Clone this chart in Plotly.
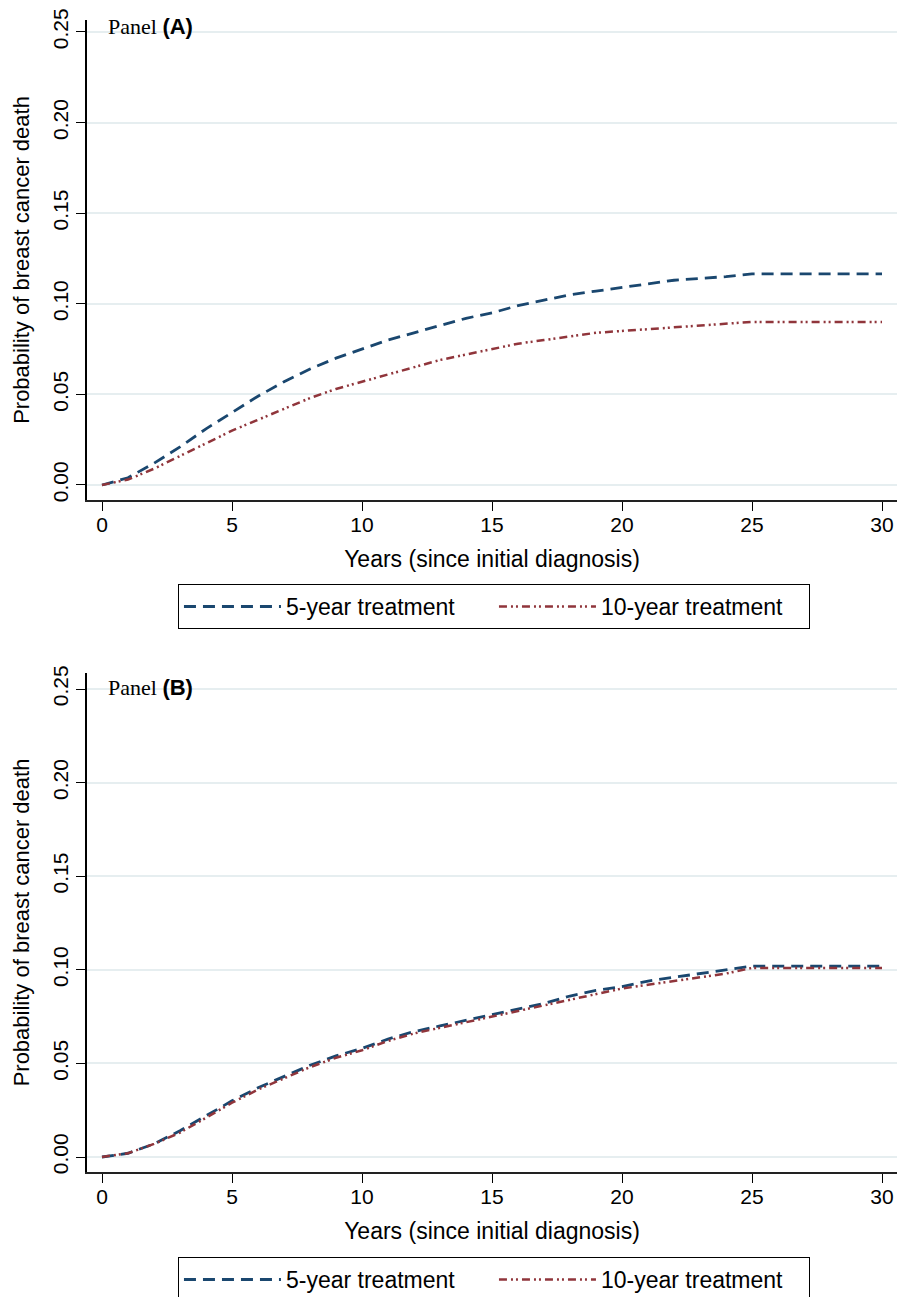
import plotly.graph_objects as go

years = list(range(0, 31))

a_5yr = [0.000, 0.004, 0.012, 0.021, 0.031, 0.040, 0.049, 0.057, 0.064, 0.070,
         0.075, 0.080, 0.084, 0.088, 0.092, 0.095, 0.099, 0.102, 0.105, 0.107,
         0.109, 0.111, 0.113, 0.114, 0.115, 0.1165, 0.1165, 0.1165, 0.1165, 0.1165, 0.1165]
a_10yr = [0.000, 0.003, 0.009, 0.016, 0.023, 0.030, 0.036, 0.042, 0.048, 0.053,
          0.057, 0.061, 0.065, 0.069, 0.072, 0.075, 0.078, 0.080, 0.082, 0.084,
          0.085, 0.086, 0.087, 0.088, 0.089, 0.090, 0.090, 0.090, 0.090, 0.090, 0.090]
b_5yr = [0.000, 0.002, 0.007, 0.014, 0.022, 0.030, 0.037, 0.043, 0.049, 0.054,
         0.058, 0.063, 0.067, 0.070, 0.073, 0.076, 0.079, 0.082, 0.086, 0.089,
         0.091, 0.094, 0.096, 0.098, 0.100, 0.102, 0.102, 0.102, 0.102, 0.102, 0.102]
b_10yr = [0.000, 0.002, 0.007, 0.013, 0.021, 0.029, 0.036, 0.042, 0.048, 0.053,
          0.057, 0.062, 0.066, 0.069, 0.072, 0.075, 0.078, 0.081, 0.084, 0.087,
          0.090, 0.092, 0.094, 0.096, 0.098, 0.101, 0.101, 0.101, 0.101, 0.101, 0.101]

x_ticks = [0, 5, 10, 15, 20, 25, 30]
y_ticks = [0.00, 0.05, 0.10, 0.15, 0.20, 0.25]
y_tick_labels = ["0.00", "0.05", "0.10", "0.15", "0.20", "0.25"]

name_5 = "5-year treatment"
name_10 = "10-year treatment"
x_title = "Years (since initial diagnosis)"
y_title = "Probability of breast cancer death"

BLUE = "#1a476f"
RED = "#90353b"
GRID = "#e6eef0"
DASH_5 = "12px,7px"
DASH_10 = "8px,4px,2px,3px,2px,4px"
SANS = "Arial, Liberation Sans, sans-serif"
SERIF = "Liberation Serif, Times New Roman, serif"

fig = go.Figure()

fig.add_trace(go.Scatter(x=years, y=a_5yr, mode="lines", name=name_5,
                         line=dict(color=BLUE, width=2.8, dash=DASH_5),
                         xaxis="x", yaxis="y", legend="legend"))
fig.add_trace(go.Scatter(x=years, y=a_10yr, mode="lines", name=name_10,
                         line=dict(color=RED, width=2.5, dash=DASH_10),
                         xaxis="x", yaxis="y", legend="legend"))
fig.add_trace(go.Scatter(x=years, y=b_5yr, mode="lines", name=name_5,
                         line=dict(color=BLUE, width=2.8, dash=DASH_5),
                         xaxis="x2", yaxis="y2", legend="legend2"))
fig.add_trace(go.Scatter(x=years, y=b_10yr, mode="lines", name=name_10,
                         line=dict(color=RED, width=2.5, dash=DASH_10),
                         xaxis="x2", yaxis="y2", legend="legend2"))

tick_font = dict(family=SANS, size=21, color="#000")

xcommon = dict(range=[-0.577, 30.577], tickvals=x_ticks, ticks="outside", ticklen=9,
               tickwidth=1.3, tickcolor="#000", showline=True, linecolor="#222",
               linewidth=1.8, showgrid=False, zeroline=False, tickfont=tick_font,
               ticklabelstandoff=-4,
               title=dict(text=x_title, font=dict(family=SANS, size=23, color="#000"),
                          standoff=16), domain=[0, 1])
ycommon = dict(tickvals=y_ticks, ticktext=y_tick_labels, tickangle=-90, ticks="outside",
               ticklen=9, tickwidth=1.3, tickcolor="#000", showline=True, linecolor="#000",
               linewidth=1.5, showgrid=True, gridcolor=GRID, gridwidth=1.5,
               zeroline=False, tickfont=tick_font,
               title=dict(text=y_title, font=dict(family=SANS, size=22, color="#000"),
                          standoff=13))

legend_common = dict(orientation="h", x=0.1123, xanchor="left", yanchor="top",
                     bordercolor="#000", borderwidth=1, bgcolor="white",
                     font=dict(family=SANS, size=23, color="#000"),
                     itemwidth=97, entrywidth=203, entrywidthmode="pixels")

fig.update_layout(
    width=897, height=1297,
    margin=dict(l=87, r=0, t=0, b=0, autoexpand=False),
    paper_bgcolor="white", plot_bgcolor="white",
    xaxis=dict(xcommon, anchor="y"),
    yaxis=dict(ycommon, range=[-0.00828, 0.25662], domain=[0.61449, 0.98458], anchor="x"),
    xaxis2=dict(xcommon, anchor="y2"),
    yaxis2=dict(ycommon, range=[-0.00801, 0.25855], domain=[0.09638, 0.48111], anchor="x2"),
    legend=dict(legend_common, y=0.5497),
    legend2=dict(legend_common, y=0.0308),
    showlegend=True,
)

panel_tpl = "Panel <b><span style='font-family:Arial, Liberation Sans, sans-serif'>({})</span></b>"
fig.add_annotation(text=panel_tpl.format("A"), xref="x domain", yref="y domain",
                   x=0.023, y=0.987, xanchor="left", yanchor="middle", showarrow=False,
                   font=dict(family=SERIF, size=22, color="#000"))
fig.add_annotation(text=panel_tpl.format("B"), xref="x2 domain", yref="y2 domain",
                   x=0.023, y=0.97, xanchor="left", yanchor="middle", showarrow=False,
                   font=dict(family=SERIF, size=22, color="#000"))

# remove the default page margin and scrollbars so the figure fills the window exactly
fig.write_html("out.html",
               config={"displayModeBar": False},
               post_script="document.documentElement.style.overflow='hidden';"
                           "document.body.style.margin='0';"
                           "document.body.style.overflow='hidden';")
